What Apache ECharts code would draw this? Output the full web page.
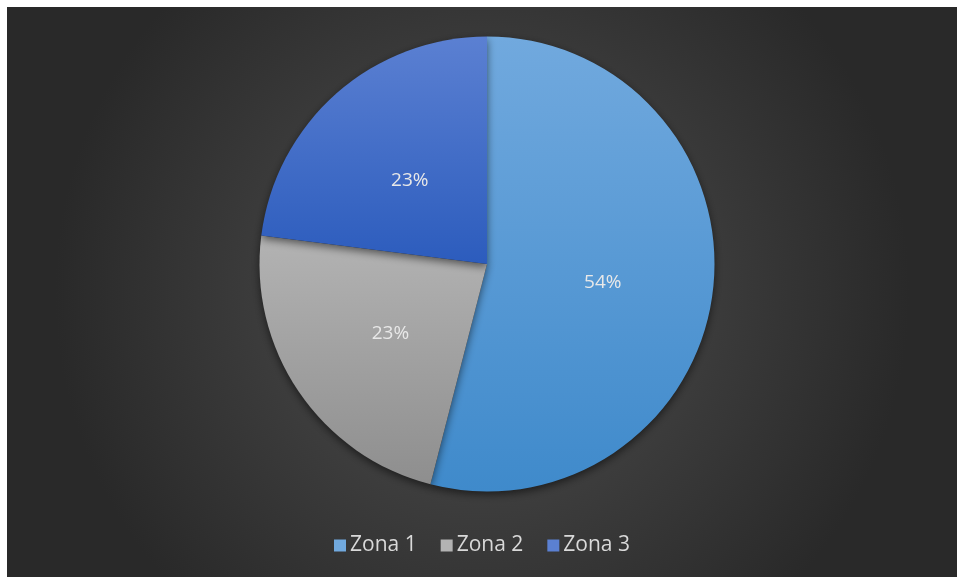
<!DOCTYPE html>
<html>
<head>
<meta charset="utf-8">
<script src="https://cdn.jsdelivr.net/npm/echarts@6/dist/echarts.min.js"></script>
<style>
  html, body { margin: 0; padding: 0; background: #ffffff; }
  #chart { position: absolute; left: 7px; top: 7px; width: 950px; height: 570px; }
</style>
</head>
<body>
<div id="chart"></div>
<script>
// Share of each zone
const categories = ['Zona 1', 'Zona 2', 'Zona 3'];
const values = [54, 23, 23];

// Slice fills: vertical gradients, light at top, darker at bottom
const sliceColors = [
  ['#71a9de', '#3f8acb'],
  ['#b3b3b3', '#8e8e8e'],
  ['#5b80d2', '#2c5cbd']
];

const chart = echarts.init(document.getElementById('chart'), null, { renderer: 'canvas' });

const data = categories.map((name, i) => ({
  name: name,
  value: values[i],
  itemStyle: {
    color: new echarts.graphic.LinearGradient(0, 0, 0, 1, [
      { offset: 0, color: sliceColors[i][0] },
      { offset: 1, color: sliceColors[i][1] }
    ])
  }
}));

chart.setOption({
  backgroundColor: {
    type: 'radial', x: 0.5, y: 0.5, r: 0.75,
    colorStops: [
      { offset: 0, color: '#505050' },
      { offset: 1, color: '#292929' }
    ]
  },
  animation: false,
  legend: {
    data: categories.map((c, i) => ({ name: c, itemStyle: { color: sliceColors[i][0] } })),
    bottom: 16,
    left: 'center',
    icon: 'rect',
    itemWidth: 12,
    itemHeight: 12,
    itemGap: 24,
    textStyle: { color: '#d9d9d9', fontSize: 21, fontFamily: 'Open Sans, Noto Sans, sans-serif', padding: [0, 0, 0, -1] }
  },
  series: [{
    type: 'pie',
    center: [480, 257],
    radius: 227.5,
    startAngle: 90,
    clockwise: true,
    data: data,
    label: {
      show: true,
      position: 'inside',
      formatter: p => '{v|' + Math.round(p.percent) + '%}',
      rich: {
        v: {
          color: '#e8e8e8',
          fontSize: 19,
          fontFamily: 'Open Sans, Noto Sans, sans-serif',
          padding: [8, 0, 0, 0]
        }
      }
    },
    labelLine: { show: false },
    itemStyle: {
      borderWidth: 0,
      shadowBlur: 8,
      shadowOffsetY: 3,
      shadowColor: 'rgba(0,0,0,0.55)'
    },
    emphasis: { disabled: true }
  }]
});
</script>
</body>
</html>
